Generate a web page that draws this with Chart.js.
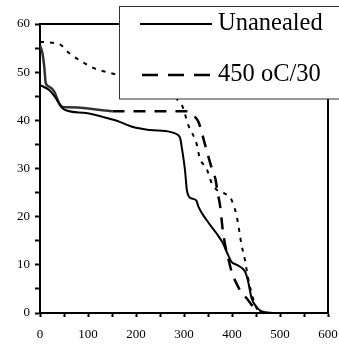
<!DOCTYPE html>
<html>
<head>
<meta charset="utf-8">
<script src="https://cdn.jsdelivr.net/npm/chart.js@4/dist/chart.umd.min.js"></script>
<style>
  body { margin: 0; background: #fff; }
  canvas { display: block; }
</style>
</head>
<body>
<canvas id="curveChart" width="339" height="346"></canvas>
<script>
// values (x in the axis units 0-600, y in 0-60)
const unannealedX = [0, 19, 33, 44, 54, 96, 131, 160, 194, 229, 271, 285, 292, 296, 302, 306, 310, 319, 326, 330, 347, 368, 381, 392, 399, 410, 427, 433, 441, 451, 462, 485];
const unannealedY = [47.3, 46.3, 44.6, 42.8, 42.1, 41.5, 40.7, 39.9, 38.6, 38.0, 37.6, 37.1, 36.3, 34.0, 29.7, 25.5, 24.2, 23.7, 23.3, 22.1, 19.3, 16.5, 14.5, 12.0, 10.6, 10.0, 8.6, 6.8, 3.0, 1.3, 0.3, 0];

const annealedX = [0, 5, 9, 12, 19, 30, 40, 47, 60, 96, 131, 151, 300, 310, 320, 330, 344, 358, 365, 371, 375, 381, 385, 392, 400, 410, 420, 431, 440, 448, 455, 465];
const annealedY = [55.5, 54, 51, 47.7, 47, 45.9, 43.5, 42.8, 42.7, 42.5, 42.1, 41.9, 41.9, 41.8, 41.0, 39.7, 34.9, 30, 28, 24.5, 22.4, 17, 14.5, 11.4, 8.3, 6, 4.2, 3, 1.8, 1, 0.4, 0];

const thirdX = [0, 33, 44, 58, 82, 113, 148, 295, 309, 326, 333, 347, 358, 368, 378, 385, 392, 399, 410, 420, 427, 433, 441, 448, 455, 465];
const thirdY = [56.3, 56, 55.6, 54.2, 52.5, 50.8, 49.8, 43.2, 39, 35.2, 32.1, 30, 26.9, 25.6, 25, 24.8, 24.3, 23.5, 20, 14.1, 11, 7.5, 4, 1.7, 0.5, 0];

const legendLabels = ['Unanealed', '450 oC/30'];

const xMin = 0, xMax = 600, xStep = 50, xLabelEvery = 100;
const yMin = 0, yMax = 60, yStep = 5, yLabelEvery = 10;

function toPoints(xs, ys) {
  return xs.map((x, i) => ({ x: x, y: ys[i] }));
}

const serif = "'Liberation Serif', 'Times New Roman', serif";

// closes the plot frame on top and right, then the boxed legend over it
const framePlugin = {
  id: 'frameAndLegend',
  afterDatasetsDraw(chart) {
    const { ctx, chartArea: a } = chart;
    ctx.save();
    ctx.strokeStyle = '#000';
    ctx.lineWidth = 2;
    ctx.beginPath();
    ctx.moveTo(a.left, a.top);
    ctx.lineTo(a.right, a.top);
    ctx.lineTo(a.right, a.bottom);
    ctx.stroke();

    // legend box
    ctx.fillStyle = '#fff';
    ctx.fillRect(119, 6, 240, 93);
    ctx.strokeStyle = '#333';
    ctx.lineWidth = 1;
    ctx.strokeRect(119.5, 6.5, 240, 92.5);

    ctx.strokeStyle = '#000';
    ctx.lineWidth = 2;
    ctx.setLineDash([]);
    ctx.beginPath();
    ctx.moveTo(140, 24);
    ctx.lineTo(212, 24);
    ctx.stroke();

    ctx.lineWidth = 2.5;
    ctx.setLineDash([16, 10]);
    ctx.beginPath();
    ctx.moveTo(142, 75);
    ctx.lineTo(212, 75);
    ctx.stroke();
    ctx.setLineDash([]);

    ctx.fillStyle = '#000';
    ctx.font = '24.5px ' + serif;
    ctx.textBaseline = 'middle';
    ctx.textAlign = 'left';
    ctx.fillText(legendLabels[0], 218, 24);
    ctx.fillText(legendLabels[1], 218, 75);
    ctx.restore();
  }
};

const ctx = document.getElementById('curveChart').getContext('2d');
new Chart(ctx, {
  type: 'line',
  data: {
    datasets: [
      {
        label: legendLabels[0],
        data: toPoints(unannealedX, unannealedY),
        borderColor: '#000',
        borderWidth: 2,
        pointRadius: 0,
        cubicInterpolationMode: 'monotone'
      },
      {
        label: legendLabels[1],
        data: toPoints(annealedX, annealedY),
        borderColor: '#000',
        borderWidth: 2.5,
        pointRadius: 0,
        cubicInterpolationMode: 'monotone',
        borderDash: [12, 9],
        segment: {
          borderDash: c => c.p0.parsed.x < 151 ? [] : [12, 9],
          borderColor: c => c.p0.parsed.x < 151 ? '#333' : '#000'
        }
      },
      {
        label: '',
        data: toPoints(thirdX, thirdY),
        borderColor: '#000',
        borderWidth: 2,
        pointRadius: 0,
        cubicInterpolationMode: 'monotone',
        borderDash: [4, 6]
      }
    ]
  },
  options: {
    responsive: false,
    animation: false,
    layout: { padding: { top: 24, right: 11, left: 0, bottom: 0 } },
    plugins: {
      legend: { display: false },
      tooltip: { enabled: false }
    },
    scales: {
      x: {
        type: 'linear',
        min: xMin,
        max: xMax,
        afterFit: s => { s.height = 33; s.paddingLeft = 0; s.paddingRight = 0; },
        border: { display: true, color: '#000', width: 2 },
        grid: { drawOnChartArea: false, drawTicks: true, tickLength: 4, tickWidth: 2, tickColor: '#000' },
        ticks: {
          stepSize: xStep,
          autoSkip: false,
          maxRotation: 0,
          padding: 10,
          color: '#000',
          font: { family: serif, size: 13 },
          callback: v => v % xLabelEvery === 0 ? v : ''
        }
      },
      y: {
        min: yMin,
        max: yMax,
        afterFit: s => { s.width = 40; s.paddingTop = 0; s.paddingBottom = 0; },
        border: { display: true, color: '#000', width: 2 },
        grid: { drawOnChartArea: false, drawTicks: true, tickLength: 5, tickWidth: 2, tickColor: '#000' },
        ticks: {
          stepSize: yStep,
          autoSkip: false,
          padding: 5,
          color: '#000',
          font: { family: serif, size: 13 },
          callback: v => v % yLabelEvery === 0 ? v : ''
        }
      }
    }
  },
  plugins: [framePlugin]
});
</script>
</body>
</html>
